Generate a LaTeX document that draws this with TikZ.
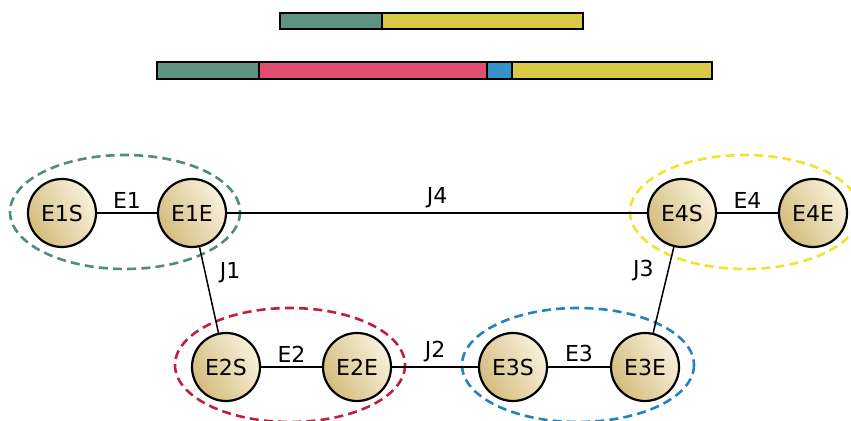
\documentclass[tikz,border=0pt]{standalone}
\usepackage{fontspec}
\setmainfont{DejaVu Sans}
\usepackage{xcolor}
\usetikzlibrary{positioning}

\definecolor{segteal}{HTML}{5E9382}
\definecolor{segyellow}{HTML}{D9C943}
\definecolor{segpink}{HTML}{E04F72}
\definecolor{segblue}{HTML}{3593C9}
\definecolor{grpgreen}{HTML}{4F8C7B}
\definecolor{grpred}{HTML}{C41E3F}
\definecolor{grpblue}{HTML}{2384BA}
\definecolor{grpyellow}{HTML}{F2E12E}
\definecolor{nodedark}{HTML}{D4BC7C}
\definecolor{nodelight}{HTML}{F8F1DC}

\tikzset{
  exon/.style={circle, draw=black, line width=1.1pt, minimum size=34pt, inner sep=0pt,
    left color=nodedark, right color=nodelight, shading angle=120,
    font=\fontsize{11}{13}\selectfont},
  link/.style={draw=black, line width=0.75pt},
  lbl/.style={font=\fontsize{11}{13}\selectfont, inner sep=2pt},
  grp/.style={dashed, dash pattern=on 4.5pt off 2.6pt, line width=1.3pt},
  seg/.style={draw=black, line width=0.9pt}
}

\begin{document}
\begin{tikzpicture}[x=0.5pt, y=-0.5pt]
  \useasboundingbox (0,0) rectangle (851,421);

  % transcript bars
  \fill[segteal]   (280,13) rectangle (382,29);
  \fill[segyellow] (382,13) rectangle (583,29);
  \draw[seg] (280,13) rectangle (382,29);
  \draw[seg] (382,13) rectangle (583,29);

  \fill[segteal]   (157,62) rectangle (259,79);
  \fill[segpink]   (259,62) rectangle (487,79);
  \fill[segblue]   (487,62) rectangle (512,79);
  \fill[segyellow] (512,62) rectangle (712,79);
  \draw[seg] (157,62) rectangle (259,79);
  \draw[seg] (259,62) rectangle (487,79);
  \draw[seg] (487,62) rectangle (512,79);
  \draw[seg] (512,62) rectangle (712,79);

  % exon groups
  \draw[grp, grpgreen]  (125,212) ellipse [x radius=115, y radius=57];
  \draw[grp, grpred]    (290,365) ellipse [x radius=115, y radius=57];
  \draw[grp, grpblue]   (578,365) ellipse [x radius=116, y radius=57];
  \draw[grp, grpyellow] (745,212) ellipse [x radius=115, y radius=57];

  % exon ends
  \node[exon] (e1s) at (62,213)  {E1S};
  \node[exon] (e1e) at (192,213) {E1E};
  \node[exon] (e2s) at (226,367) {E2S};
  \node[exon] (e2e) at (357,367) {E2E};
  \node[exon] (e3s) at (513,367) {E3S};
  \node[exon] (e3e) at (645,367) {E3E};
  \node[exon] (e4s) at (682,213) {E4S};
  \node[exon] (e4e) at (813,213) {E4E};

  % exons
  \draw[link] (e1s) -- node[lbl, above] {E1} (e1e);
  \draw[link] (e2s) -- node[lbl, above] {E2} (e2e);
  \draw[link] (e3s) -- node[lbl, above] {E3} (e3e);
  \draw[link] (e4s) -- node[lbl, above] {E4} (e4e);

  % junctions
  \draw[link] (e1e) -- node[lbl, pos=0.3, right=5pt] {J1} (e2s);
  \draw[link] (e2e) -- node[lbl, above] {J2} (e3s);
  \draw[link] (e4s) -- node[lbl, pos=0.27, left=5pt] {J3} (e3e);
  \draw[link] (e1e) -- node[lbl, above] {J4} (e4s);
\end{tikzpicture}
\end{document}
